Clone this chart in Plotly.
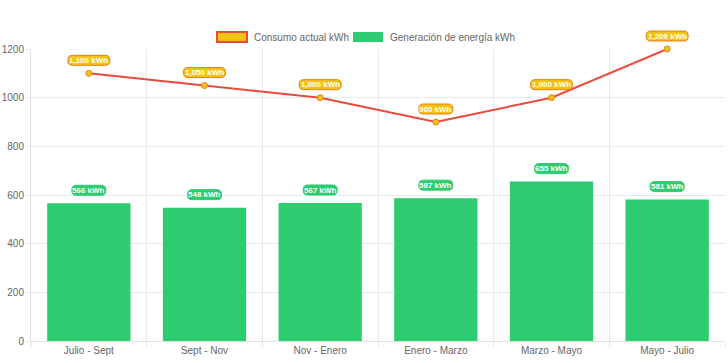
import plotly.graph_objects as go

categories = ["Julio - Sept", "Sept - Nov", "Nov - Enero", "Enero - Marzo", "Marzo - Mayo", "Mayo - Julio"]
consumo = [1100, 1050, 1000, 900, 1000, 1200]
generacion = [566, 548, 567, 587, 655, 581]
y_ticks = [0, 200, 400, 600, 800, 1000, 1200]
legend_names = ["Consumo actual kWh", "Generación de energía kWh"]

xs = list(range(len(categories)))
FONT = "Liberation Sans, Arial, sans-serif"

W, H = 728, 363
M_L, M_R, M_T, M_B = 31, 3, 10, 22
plot_top_px, plot_bot_px = 49, 341
paper_w = W - M_L - M_R
paper_h = H - M_T - M_B
y_dom_top = (H - M_B - plot_top_px) / paper_h
Y_MAX = 1200
X_MIN, X_MAX = -0.5, len(categories) - 0.5

GREEN = "#2ecc71"
YELLOW = "#f1c40f"
RED = "#e74c3c"
ORANGE = "#e67e22"


def px_x(p):
    return (p - M_L) / paper_w


def px_y(p):
    return (H - M_B - p) / paper_h


def rounded_rect(w, h, r, yc):
    x0, x1 = -w / 2, w / 2
    y0, y1 = yc - h / 2, yc + h / 2
    return (f"M {x0 + r},{y0} L {x1 - r},{y0} Q {x1},{y0} {x1},{y0 + r} "
            f"L {x1},{y1 - r} Q {x1},{y1} {x1 - r},{y1} L {x0 + r},{y1} "
            f"Q {x0},{y1} {x0},{y1 - r} L {x0},{y0 + r} Q {x0},{y0} {x0 + r},{y0} Z")


fig = go.Figure()
fig.add_trace(go.Bar(
    x=xs, y=generacion, name=legend_names[1], showlegend=False,
    marker=dict(color=GREEN, line=dict(width=0)), width=0.72,
    hoverinfo="skip",
))
fig.add_trace(go.Scatter(
    x=xs, y=consumo, mode="lines+markers", name=legend_names[0], showlegend=False,
    cliponaxis=False,
    line=dict(color=RED, width=2),
    marker=dict(size=6, color=YELLOW, line=dict(color=ORANGE, width=1)),
    hoverinfo="skip",
))

annotations, shapes = [], []
for series, fmt, bg, bd in [(consumo, "{:,} kWh", YELLOW, ORANGE),
                            (generacion, "{} kWh", GREEN, GREEN)]:
    for x, v in zip(xs, series):
        txt = fmt.format(v)
        w = 4.0 * len(txt) + 6
        px = (x - X_MIN) / (X_MAX - X_MIN)
        py = v / Y_MAX * y_dom_top
        shapes.append(dict(
            type="path", xref="paper", yref="paper", xsizemode="pixel", ysizemode="pixel",
            xanchor=px, yanchor=py, path=rounded_rect(w, 10, 4.5, 13),
            fillcolor=bg, line=dict(color=bd, width=1), layer="above",
        ))
        annotations.append(dict(
            x=x, y=v, xref="x", yref="y", text=f"<b>{txt}</b>", showarrow=False,
            yshift=13, font=dict(family=FONT, size=8, color="white"),
        ))

# manual legend (wide boxes like the original)
leg_y = 37
leg_items = [
    (217, legend_names[0], YELLOW, RED, 2),
    (353, legend_names[1], GREEN, GREEN, 0),
]
for x0, name, fill, border, bw in leg_items:
    shapes.append(dict(
        type="rect", xref="paper", yref="paper",
        x0=px_x(x0), x1=px_x(x0 + 30), y0=px_y(leg_y + 5), y1=px_y(leg_y - 5),
        fillcolor=fill, line=dict(color=border, width=bw),
    ))
    annotations.append(dict(
        x=px_x(x0 + 35), y=px_y(leg_y), xref="paper", yref="paper",
        xanchor="left", yanchor="middle", text=name, showarrow=False,
        font=dict(family=FONT, size=10, color="#666666"),
    ))

fig.update_layout(
    width=W, height=H,
    margin=dict(l=M_L, r=M_R, t=M_T, b=M_B),
    paper_bgcolor="white", plot_bgcolor="white",
    font=dict(family=FONT, size=10, color="#666666"),
    showlegend=False,
    barmode="overlay",
    annotations=annotations,
    shapes=shapes,
    xaxis=dict(
        range=[X_MIN, X_MAX], tickmode="array", tickvals=xs, ticktext=categories,
        showgrid=False, ticks="", zeroline=False, automargin=False,
        showline=True, linecolor="#e0e0e0", linewidth=1,
        minor=dict(tick0=-0.5, dtick=1, showgrid=True, gridcolor="#e9e9e9",
                   ticks="outside", ticklen=5, tickcolor="#e9e9e9"),
        tickfont=dict(size=10, color="#666666"),
        fixedrange=True,
    ),
    yaxis=dict(
        domain=[0, y_dom_top], automargin=False,
        range=[0, Y_MAX], tickmode="array", tickvals=y_ticks,
        showgrid=True, gridcolor="#e9e9e9", zeroline=False,
        showline=True, linecolor="#e0e0e0", linewidth=1,
        ticks="outside", ticklen=4, tickcolor="#e9e9e9",
        tickfont=dict(size=10, color="#666666"),
        fixedrange=True,
    ),
)

fig.write_html(
    "out.html",
    config={"displayModeBar": False},
    post_script="document.body.style.margin='0';document.body.style.overflow='hidden';",
)
